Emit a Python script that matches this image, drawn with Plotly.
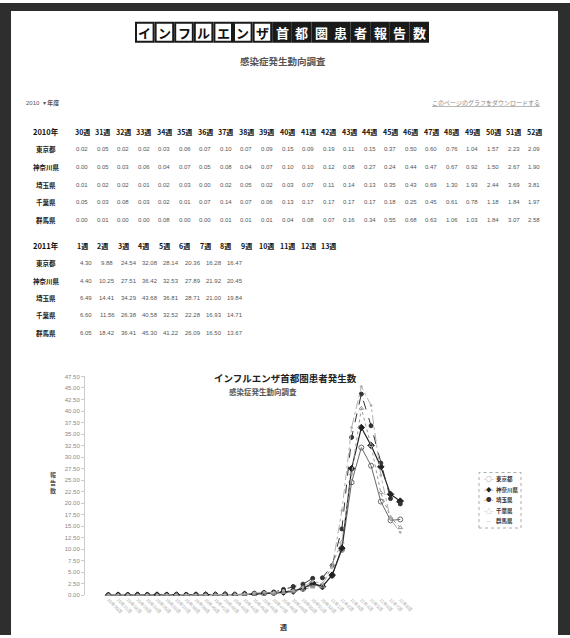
import plotly.graph_objects as go

W, H = 570, 638

# ---------------- data ----------------
title_kana = ["イ", "ン", "フ", "ル", "エ", "ン", "ザ"]
title_kanji = ["首", "都", "圏", "患", "者", "報", "告", "数"]

prefectures = ["東京都", "神奈川県", "埼玉県", "千葉県", "群馬県"]
legend_symbols = ["-○-", "-◆-", "-●-", "-△-", "—"]

weeks_2010 = list(range(30, 53))
weeks_2011 = list(range(1, 14))

tokyo_2010 = [0.02, 0.05, 0.02, 0.02, 0.03, 0.06, 0.07, 0.10, 0.07, 0.09, 0.15, 0.09,
              0.19, 0.11, 0.15, 0.37, 0.50, 0.60, 0.76, 1.04, 1.57, 2.23, 2.09]
kanagawa_2010 = [0.00, 0.05, 0.03, 0.06, 0.04, 0.07, 0.05, 0.08, 0.04, 0.07, 0.10, 0.10,
                 0.12, 0.08, 0.27, 0.24, 0.44, 0.47, 0.67, 0.92, 1.50, 2.67, 1.90]
saitama_2010 = [0.01, 0.02, 0.02, 0.01, 0.02, 0.03, 0.00, 0.02, 0.05, 0.02, 0.03, 0.07,
                0.11, 0.14, 0.13, 0.35, 0.43, 0.69, 1.30, 1.93, 2.44, 3.69, 3.81]
chiba_2010 = [0.05, 0.03, 0.08, 0.03, 0.02, 0.01, 0.07, 0.14, 0.07, 0.06, 0.13, 0.17,
              0.17, 0.17, 0.17, 0.18, 0.25, 0.45, 0.61, 0.78, 1.18, 1.84, 1.97]
gunma_2010 = [0.00, 0.01, 0.00, 0.00, 0.08, 0.00, 0.00, 0.01, 0.01, 0.01, 0.04, 0.08,
              0.07, 0.16, 0.34, 0.55, 0.68, 0.63, 1.06, 1.03, 1.84, 3.07, 2.58]

tokyo_2011 = [4.30, 9.88, 24.54, 32.08, 28.14, 20.36, 16.28, 16.47]
kanagawa_2011 = [4.40, 10.25, 27.51, 36.42, 32.53, 27.89, 21.92, 20.45]
saitama_2011 = [6.49, 14.41, 34.29, 43.68, 36.81, 28.71, 21.00, 19.84]
chiba_2011 = [6.60, 11.56, 26.38, 40.58, 32.52, 22.28, 16.93, 14.71]
gunma_2011 = [6.05, 18.42, 36.41, 45.30, 41.22, 26.09, 16.50, 13.67]

data_2010 = [tokyo_2010, kanagawa_2010, saitama_2010, chiba_2010, gunma_2010]
data_2011 = [tokyo_2011, kanagawa_2011, saitama_2011, chiba_2011, gunma_2011]

categories = [f"10年{w}週" for w in weeks_2010] + [f"11年{w}週" for w in weeks_2011[:8]]

# ---------------- helpers ----------------
def px(x):
    return x / W

def py(y):
    return 1 - y / H

FONT = "Liberation Sans, Noto Sans CJK JP, sans-serif"
JFONT = "Noto Sans CJK JP, sans-serif"

fig = go.Figure()

styles = [
    dict(color="#6a6a6a", dash="solid", symbol="circle-open", size=5, width=1),
    dict(color="#222222", dash="solid", symbol="diamond", size=5, width=1.2),
    dict(color="#333333", dash="dash", symbol="circle", size=4, width=1),
    dict(color="#999999", dash="dot", symbol="triangle-up-open", size=4, width=1),
    dict(color="#b0b0b0", dash="dashdot", symbol="circle", size=2, width=1),
]

for name, v10, v11, st in zip(prefectures, data_2010, data_2011, styles):
    fig.add_trace(go.Scatter(
        x=categories, y=v10 + v11, name=name, mode="lines+markers",
        line=dict(color=st["color"], dash=st["dash"], width=st["width"]),
        marker=dict(symbol=st["symbol"], size=st["size"], color=st["color"],
                    line=dict(color=st["color"], width=1)),
    ))

shapes = []
annotations = []

# frame
shapes.append(dict(type="rect", xref="paper", yref="paper", x0=0, x1=px(11), y0=0, y1=1,
                   fillcolor="#2e2e2e", line=dict(width=0), layer="above"))
shapes.append(dict(type="rect", xref="paper", yref="paper", x0=0, x1=1, y0=py(8), y1=1,
                   fillcolor="#2e2e2e", line=dict(width=0), layer="above"))
shapes.append(dict(type="rect", xref="paper", yref="paper", x0=px(558), x1=1, y0=0, y1=1,
                   fillcolor="#2e2e2e", line=dict(width=0), layer="above"))

# banner
chars = title_kana + title_kanji
bx0, pitch, bw, by0, by1 = 136, 19.6, 17.6, 20, 39
for i, ch in enumerate(chars):
    x0 = bx0 + i * pitch
    dark = i >= len(title_kana)
    shapes.append(dict(type="rect", xref="paper", yref="paper",
                       x0=px(x0), x1=px(x0 + bw), y0=py(by1), y1=py(by0),
                       fillcolor="#1a1a1a" if dark else "white",
                       line=dict(color="#1a1a1a", width=2)))
    annotations.append(dict(xref="paper", yref="paper", x=px(x0 + bw / 2), y=py((by0 + by1) / 2),
                            text=f"<b>{ch}</b>", showarrow=False, xanchor="center", yanchor="middle",
                            font=dict(family=JFONT, size=13, color="white" if dark else "#111")))

annotations.append(dict(xref="paper", yref="paper", x=px(283), y=py(59), text="<b>感染症発生動向調査</b>",
                        showarrow=False, xanchor="center", yanchor="middle",
                        font=dict(family=JFONT, size=9.5, color="#555")))

annotations.append(dict(xref="paper", yref="paper", x=px(24), y=py(101), text="2010  ▾ <b>年度</b>",
                        showarrow=False, xanchor="left", yanchor="middle",
                        font=dict(family=FONT, size=6, color="#555")))
annotations.append(dict(xref="paper", yref="paper", x=px(542), y=py(100),
                        text="<u>このページのグラフをダウンロードする</u>",
                        showarrow=False, xanchor="right", yanchor="middle",
                        font=dict(family=JFONT, size=6, color="#888")))

# tables
col0, colstep, labx = 82, 20.55, 46

def table(year, weeks, rows, y0, rstep, aligned):
    annotations.append(dict(xref="paper", yref="paper", x=px(labx), y=py(y0), text=f"<b>{year}年</b>",
                            showarrow=False, xanchor="center", yanchor="middle",
                            font=dict(family=JFONT, size=7.5, color="#111")))
    for i, w in enumerate(weeks):
        annotations.append(dict(xref="paper", yref="paper", x=px(col0 + i * colstep), y=py(y0),
                                text=f"<b>{w}週</b>", showarrow=False, xanchor="center", yanchor="middle",
                                font=dict(family=JFONT, size=7, color="#111")))
    for r, (name, vals) in enumerate(zip(prefectures, rows)):
        yy = y0 + (r + 1) * rstep
        annotations.append(dict(xref="paper", yref="paper", x=px(labx), y=py(yy), text=f"<b>{name}</b>",
                                showarrow=False, xanchor="center", yanchor="middle",
                                font=dict(family=JFONT, size=6.5, color="#222")))
        for i, v in enumerate(vals):
            xx = col0 + i * colstep if aligned else 86 + i * 21.3
            annotations.append(dict(xref="paper", yref="paper", x=px(xx), y=py(yy), text=f"{v:.2f}",
                                    showarrow=False, xanchor="center", yanchor="middle",
                                    font=dict(family=FONT, size=6, color="#555")))

table(2010, weeks_2010, data_2010, 130, 17.8, True)
table(2011, weeks_2011, data_2011, 245, 17.6, False)

# chart titles
annotations.append(dict(xref="paper", yref="paper", x=px(285), y=py(379),
                        text="<b>インフルエンザ首都圏患者発生数</b>", showarrow=False,
                        xanchor="center", yanchor="middle",
                        font=dict(family=JFONT, size=9.5, color="#222")))
annotations.append(dict(xref="paper", yref="paper", x=px(227), y=py(392),
                        text="<b>感染症発生動向調査</b>", showarrow=False,
                        xanchor="left", yanchor="middle",
                        font=dict(family=JFONT, size=7.5, color="#555")))
annotations.append(dict(xref="paper", yref="paper", x=px(53), y=py(484),
                        text="<b>報<br>告<br>数</b>", showarrow=False,
                        xanchor="center", yanchor="middle",
                        font=dict(family=JFONT, size=6, color="#555")))
annotations.append(dict(xref="paper", yref="paper", x=px(283), y=py(630),
                        text="<b>週</b>", showarrow=False, xanchor="center", yanchor="middle",
                        font=dict(family=JFONT, size=7, color="#333")))

# legend (drawn as text)
lx0, lx1, ly0, ly1 = 479, 521, 474, 530
shapes.append(dict(type="rect", xref="paper", yref="paper", x0=px(lx0), x1=px(lx1),
                   y0=py(ly1), y1=py(ly0), fillcolor="white",
                   line=dict(color="#aaa", width=1, dash="dot")))
for i, (name, sym, st) in enumerate(zip(prefectures, legend_symbols, styles)):
    yy = ly0 + 7 + i * 10.5
    annotations.append(dict(xref="paper", yref="paper", x=px(488), y=py(yy), text=sym,
                            showarrow=False, xanchor="center", yanchor="middle",
                            font=dict(family=JFONT, size=5.5, color=st["color"])))
    annotations.append(dict(xref="paper", yref="paper", x=px(494), y=py(yy), text=f"<b>{name}</b>",
                            showarrow=False, xanchor="left", yanchor="middle",
                            font=dict(family=JFONT, size=5.5, color="#333")))

fig.update_layout(
    width=W, height=H, margin=dict(l=0, r=0, t=0, b=0),
    paper_bgcolor="white", plot_bgcolor="white",
    font=dict(family=FONT),
    shapes=shapes, annotations=annotations,
    xaxis=dict(domain=[px(85), 0.82], type="category", range=[-2.4, 36.9],
               tickmode="linear", tick0=0, dtick=1, tickangle=45,
               tickfont=dict(size=4.5, color="#aaa"), showgrid=False, zeroline=False,
               showline=False, ticks=""),
    yaxis=dict(domain=[py(598), py(377)], range=[0, 47.5], dtick=2.5, tickformat=".2f",
               tickfont=dict(size=6, color="#888"), showgrid=False, zeroline=False,
               showline=True, linecolor="#ccc", linewidth=1, ticks="outside", ticklen=3,
               tickcolor="#ccc"),
    showlegend=False,
)

fig.write_html("out.html", config={"displayModeBar": False},
               post_script="document.body.style.margin='0px';document.body.style.overflow='hidden';")
